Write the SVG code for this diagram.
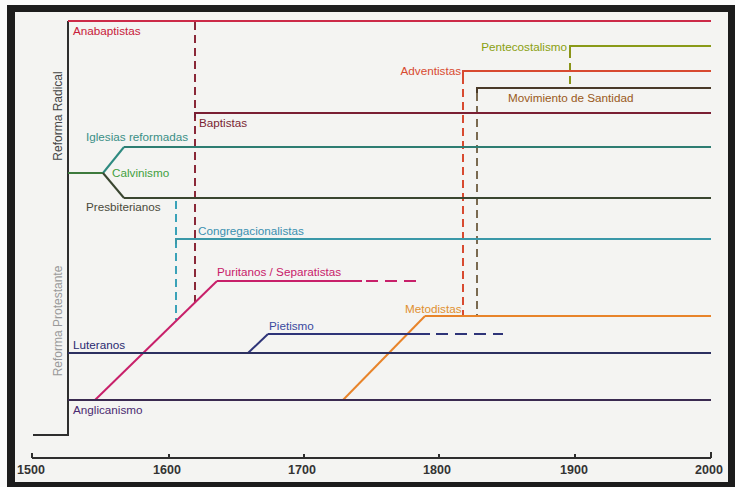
<svg xmlns="http://www.w3.org/2000/svg" width="735" height="487" viewBox="0 0 735 487">
<defs>
<style>
text{font-family:"Liberation Sans",Arial,sans-serif;font-size:11.7px}
.ln{fill:none;stroke-width:2;stroke-linecap:butt}
.dv{fill:none;stroke-width:2;stroke-dasharray:8,5}
.dh{fill:none;stroke-width:2;stroke-dasharray:12,7}
.ax{fill:none;stroke:#2e2e2e;stroke-width:2}
.yr{font-size:12.5px;font-weight:bold;fill:#333;text-anchor:middle}
</style>
</defs>
<rect x="0" y="0" width="735" height="487" fill="#fafafa"/>
<rect x="7" y="5" width="728" height="482" fill="#1c1c1c"/>
<rect x="15" y="12" width="713" height="470" fill="#f4f4f2"/>

<g id="axes">
<path class="ax" d="M33,435 H68 V21"/>
<path class="ax" d="M32,458 H711 M32,453 V458 M169,454 V458 M304,454 V458 M439,454 V458 M575,454 V458 M711,452 V458"/>
<text class="yr" x="31" y="474">1500</text>
<text class="yr" x="167" y="474">1600</text>
<text class="yr" x="302" y="474">1700</text>
<text class="yr" x="437" y="474">1800</text>
<text class="yr" x="574" y="474">1900</text>
<text class="yr" x="709" y="474">2000</text>
<text transform="translate(62,116) rotate(-90)" text-anchor="middle" style="font-size:12px;fill:#444">Reforma Radical</text>
<text transform="translate(62,321) rotate(-90)" text-anchor="middle" style="font-size:12px;fill:#9a9a9a">Reforma Protestante</text>
</g>

<g id="connectors">
<path class="dv" stroke="#8a2838" d="M195,22 V302"/>
<path class="ln" stroke="#3d7a3d" d="M68,173 H103"/>
<path class="ln" stroke="#2e8a80" d="M103,173 L124,147"/>
<path class="ln" stroke="#3a4630" d="M103,173 L124,198"/>
<path class="dv" stroke="#3aa2b8" d="M176,201 V320"/>
<path class="ln" stroke="#c8206a" d="M95,400 L217,281"/>
<path class="ln" stroke="#2e3478" d="M248,353 L268,334"/>
<path class="ln" stroke="#e8842a" d="M343,400 L425,316"/>
<path class="dv" stroke="#d84a30" d="M463,76 V316"/>
<path class="dv" stroke="#7a6a50" d="M477,93 V316"/>
<path class="dv" stroke="#8a9418" d="M570,50 V88"/>
</g>

<g id="anabaptistas">
<path class="ln" stroke="#cc2a48" d="M68,21 H711"/>
<text x="73" y="35" fill="#c8203a">Anabaptistas</text>
</g>
<g id="pentecostalismo">
<path class="ln" stroke="#8a9a18" d="M570,50 V46 H711"/>
<text x="567" y="51" text-anchor="end" fill="#8aa010">Pentecostalismo</text>
</g>
<g id="adventistas">
<path class="ln" stroke="#d84a30" d="M463,76 V71 H711"/>
<text x="461" y="75" text-anchor="end" fill="#d84a30">Adventistas</text>
</g>
<g id="santidad">
<path class="ln" stroke="#4a3a28" d="M477,93 V88 H711"/>
<text x="508" y="102" fill="#9a5a20">Movimiento de Santidad</text>
</g>
<g id="baptistas">
<path class="ln" stroke="#7a1f33" d="M195,118 V113 H711"/>
<text x="199" y="127" fill="#7a1f33">Baptistas</text>
</g>
<g id="reformadas">
<path class="ln" stroke="#2e7d72" d="M124,147 H711"/>
<text x="86" y="141" fill="#3a8f86">Iglesias reformadas</text>
</g>
<g id="calvinismo">
<text x="112" y="177" fill="#3fa040">Calvinismo</text>
</g>
<g id="presbiterianos">
<path class="ln" stroke="#3a4630" d="M124,198 H711"/>
<text x="86" y="211" fill="#4a4a3a">Presbiterianos</text>
</g>
<g id="congregacionalistas">
<path class="ln" stroke="#3a98a8" d="M176,244 V239 H711"/>
<text x="198" y="235" fill="#3a90b0">Congregacionalistas</text>
</g>
<g id="puritanos">
<path class="ln" stroke="#c8206a" d="M217,281 H362"/>
<path class="dh" stroke="#c8206a" d="M366,281 H422"/>
<text x="217" y="276" fill="#c8206a">Puritanos / Separatistas</text>
</g>
<g id="metodistas">
<path class="ln" stroke="#e8842a" d="M425,316 H711"/>
<text x="405" y="313" fill="#e09030">Metodistas</text>
</g>
<g id="pietismo">
<path class="ln" stroke="#2e3478" d="M268,334 H430"/>
<path class="dh" stroke="#2e3478" d="M436,334 H503"/>
<text x="269" y="330" fill="#3a4aa0">Pietismo</text>
</g>
<g id="luteranos">
<path class="ln" stroke="#2c3060" d="M68,353 H711"/>
<text x="73" y="349" fill="#2a2a70">Luteranos</text>
</g>
<g id="anglicanismo">
<path class="ln" stroke="#3a2a50" d="M68,400 H711"/>
<text x="73" y="414" fill="#4a2a70">Anglicanismo</text>
</g>
</svg>
